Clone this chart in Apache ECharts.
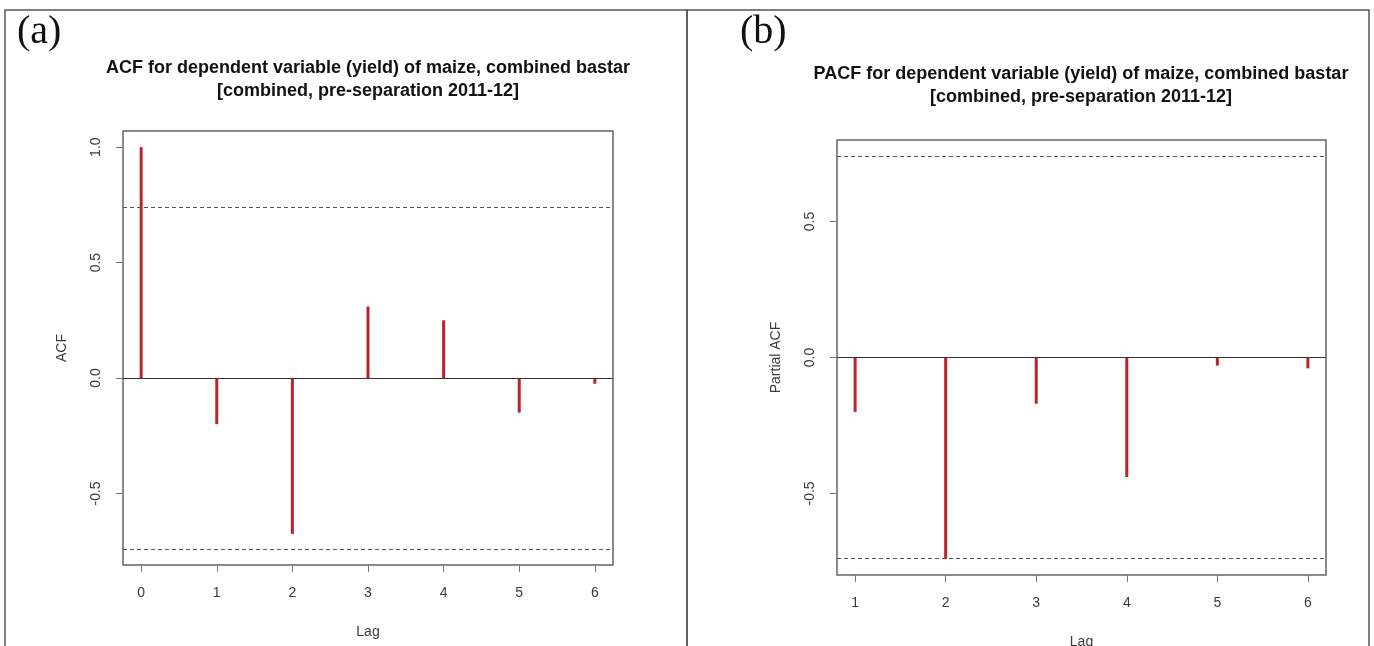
<!DOCTYPE html>
<html>
<head>
<meta charset="utf-8">
<script src="https://cdn.jsdelivr.net/npm/echarts@6/dist/echarts.min.js"></script>
<style>
  html, body { margin: 0; padding: 0; background: #fff; }
  #main { width: 1374px; height: 646px; }
</style>
</head>
<body>
<div id="main"></div>
<script>
// ACF (lags 0..6) and PACF (lags 1..6)
const acfLags = [0, 1, 2, 3, 4, 5, 6];
const acfValues = [1.0, -0.20, -0.675, 0.31, 0.25, -0.15, -0.025];
const pacfLags = [1, 2, 3, 4, 5, 6];
const pacfValues = [-0.20, -0.74, -0.17, -0.44, -0.03, -0.04];
const confLimit = 0.741;   // 1.96/sqrt(7)
const acfYTicks = [-0.5, 0, 0.5, 1.0];
const pacfYTicks = [-0.5, 0, 0.5];

const titleA = 'ACF for dependent variable (yield) of maize, combined bastar\n[combined, pre-separation 2011-12]';
const titleB = 'PACF for dependent variable (yield) of maize, combined bastar\n[combined, pre-separation 2011-12]';

const chart = echarts.init(document.getElementById('main'));

const txt = '#3a3a3a';
const boxCol = '#666';
const barCol = '#b8262c';

function xAxisOf(idx, min, max, ticks) {
    return {
        type: 'value', gridIndex: idx, min: min, max: max, position: 'bottom',
        name: 'Lag', nameLocation: 'middle', nameGap: 60,
        nameTextStyle: { fontFamily: 'Liberation Sans', fontSize: 14, color: txt },
        axisLine: { show: false, onZero: false },
        splitLine: { show: false },
        axisTick: { show: true, customValues: ticks, length: 7, lineStyle: { color: '#777' } },
        axisLabel: { customValues: ticks, margin: 21, fontFamily: 'Liberation Sans', fontSize: 14, color: txt }
    };
}

function yAxisOf(idx, min, max, ticks, name) {
    return {
        type: 'value', gridIndex: idx, min: min, max: max, position: 'left',
        name: name, nameLocation: 'middle', nameRotate: 90, nameGap: 54,
        nameTextStyle: { fontFamily: 'Liberation Sans', fontSize: 14, color: txt },
        axisLine: { show: false, onZero: false },
        splitLine: { show: false },
        axisTick: { show: true, customValues: ticks, length: 7, lineStyle: { color: '#777' } },
        axisLabel: {
            customValues: ticks, rotate: 90, margin: 20,
            fontFamily: 'Liberation Sans', fontSize: 14, color: txt,
            formatter: v => v.toFixed(1)
        }
    };
}

function refLines() {
    return {
        silent: true, symbol: 'none', label: { show: false },
        data: [
            { yAxis: confLimit, lineStyle: { type: [4, 3], color: '#555', width: 1.2 } },
            { yAxis: -confLimit, lineStyle: { type: [4, 3], color: '#555', width: 1.2 } },
            { yAxis: 0, lineStyle: { type: 'solid', color: '#333', width: 1.2 } }
        ]
    };
}

const option = {
    backgroundColor: '#fff',
    animation: false,
    grid: [
        { left: 123, top: 131, width: 490, height: 434, outerBoundsMode: 'none', show: true, borderColor: boxCol, borderWidth: 1.5, backgroundColor: 'transparent' },
        { left: 837, top: 140, width: 489, height: 435, outerBoundsMode: 'none', show: true, borderColor: boxCol, borderWidth: 1.5, backgroundColor: 'transparent' }
    ],
    xAxis: [
        xAxisOf(0, -0.24, 6.24, acfLags),
        xAxisOf(1, 0.8, 6.2, pacfLags)
    ],
    yAxis: [
        yAxisOf(0, -0.81, 1.07, acfYTicks, 'ACF'),
        yAxisOf(1, -0.80, 0.80, pacfYTicks, 'Partial ACF')
    ],
    series: [
        {
            type: 'bar', xAxisIndex: 0, yAxisIndex: 0, barWidth: 3,
            itemStyle: { color: barCol },
            data: acfLags.map((l, i) => [l, acfValues[i]]),
            markLine: refLines()
        },
        {
            type: 'bar', xAxisIndex: 1, yAxisIndex: 1, barWidth: 3,
            itemStyle: { color: barCol },
            data: pacfLags.map((l, i) => [l, pacfValues[i]]),
            markLine: refLines()
        }
    ],
    graphic: [
        { type: 'rect', shape: { x: 5, y: 10, width: 682, height: 645 }, style: { fill: 'none', stroke: '#555', lineWidth: 1.5 }, silent: true },
        { type: 'rect', shape: { x: 687, y: 10, width: 682, height: 645 }, style: { fill: 'none', stroke: '#555', lineWidth: 1.5 }, silent: true },
        { type: 'text', left: 17, top: 12, style: { text: '(a)', font: '40px "Liberation Serif"', fill: '#111' } },
        { type: 'text', left: 740, top: 12, style: { text: '(b)', font: '40px "Liberation Serif"', fill: '#111' } },
        { type: 'text', x: 368, y: 57, style: { text: titleA, textAlign: 'center', font: 'bold 18px "Liberation Sans"', lineHeight: 23, fill: '#111' } },
        { type: 'text', x: 1081, y: 63, style: { text: titleB, textAlign: 'center', font: 'bold 18px "Liberation Sans"', lineHeight: 23, fill: '#111' } }
    ]
};

chart.setOption(option);
</script>
</body>
</html>
